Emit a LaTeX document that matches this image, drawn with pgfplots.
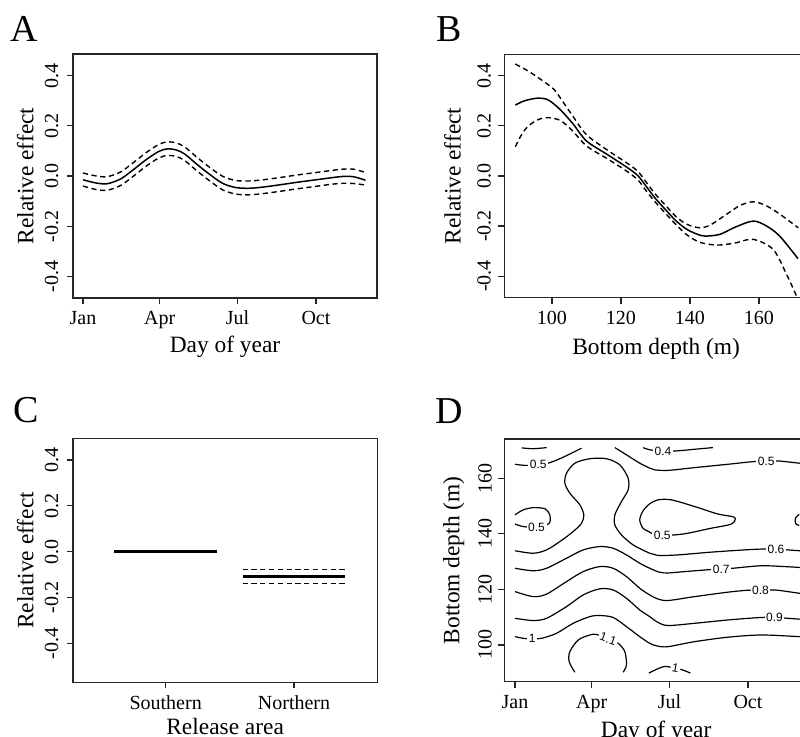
\documentclass[border=0pt]{standalone}
\usepackage{fontspec}
\setmainfont{Liberation Serif}
\newfontfamily\contourfont{Liberation Sans}
\usepackage{pgfplots}
\pgfplotsset{compat=1.18}

\pgfplotsset{
  rpanel/.style={
    scale only axis,
    axis line style={line width=0.6pt, black!85},
    tick align=outside, tick pos=left,
    major tick length=3pt,
    every tick/.style={line width=0.6pt, black!85},
    tick label style={font=\fontsize{10}{12}\selectfont},
    label style={font=\fontsize{11.7}{14}\selectfont},
    yticklabel style={rotate=90, anchor=base, inner sep=0pt},
    xticklabel style={anchor=base, inner sep=0pt},
    xticklabel shift=10.5pt,
  },
  rfit/.style={black, line width=0.75pt, smooth},
  band/.style={black, line width=0.7pt, smooth, dash pattern=on 2.6pt off 1.8pt},
  cline/.style={black, line width=0.6pt, smooth, tension=0.5},
}
\tikzset{clab/.style={fill=white, inner sep=0.8pt, font=\contourfont\fontsize{6}{7}\selectfont}}

\begin{document}
\begin{tikzpicture}
\useasboundingbox (0,0) rectangle (400pt,368.5pt);
\clip (0,0) rectangle (400pt,368.5pt);
\fill[white] (0,0) rectangle (400pt,368.5pt);

\node[anchor=base west, inner sep=0pt, font=\fontsize{19}{22}\selectfont] at (5pt,347.5pt) {A};
\node[anchor=base west, inner sep=0pt, font=\fontsize{19}{22}\selectfont] at (218pt,347.5pt) {B};
\node[anchor=base west, inner sep=0pt, font=\fontsize{19}{22}\selectfont] at (6.5pt,157.2pt) {C};
\node[anchor=base west, inner sep=0pt, font=\fontsize{19}{22}\selectfont] at (217.5pt,156.8pt) {D};

% A: day of year
\begin{axis}[rpanel,
  at={(36.5pt,219.5pt)}, anchor=south west, width=152pt, height=122pt,
  xmin=-10.7, xmax=345.5, ymin=-0.486, ymax=0.486,
  xtick={1,91,182,274}, xticklabels={Jan,Apr,Jul,Oct},
  ytick={-0.4,-0.2,0,0.2,0.4}, yticklabels={-0.4,-0.2,0.0,0.2,0.4},
  yticklabel shift=4.5pt,
  xlabel={Day of year}, ylabel={Relative effect},
  xlabel style={at={(axis description cs:0.5,-0.2254)}, anchor=base},
  ylabel style={at={(axis description cs:-0.1306,0.5)}, anchor=base},
]
\addplot[rfit] coordinates {(1,-0.015) (15,-0.027) (29,-0.031) (45,-0.012) (60,0.025) (75,0.065) (90,0.098) (100,0.108) (110,0.104) (120,0.088) (135,0.045) (150,0.005) (165,-0.030) (180,-0.046) (195,-0.049) (210,-0.045) (230,-0.036) (250,-0.026) (270,-0.017) (290,-0.008) (305,-0.002) (318,-0.003) (332,-0.017)};
\addplot[band] coordinates {(1,0.012) (15,0.001) (29,-0.003) (45,0.016) (60,0.053) (75,0.093) (90,0.126) (100,0.136) (110,0.132) (120,0.116) (135,0.073) (150,0.033) (165,-0.002) (180,-0.018) (195,-0.020) (210,-0.016) (230,-0.007) (250,0.003) (270,0.012) (290,0.021) (305,0.027) (318,0.027) (332,0.014)};
\addplot[band] coordinates {(1,-0.040) (15,-0.053) (29,-0.057) (45,-0.038) (60,-0.001) (75,0.039) (90,0.072) (100,0.082) (110,0.078) (120,0.062) (135,0.019) (150,-0.021) (165,-0.056) (180,-0.072) (195,-0.075) (210,-0.071) (230,-0.062) (250,-0.052) (270,-0.043) (290,-0.034) (305,-0.029) (318,-0.030) (332,-0.036)};
\end{axis}

% B: bottom depth
\begin{axis}[rpanel,
  at={(252.15pt,219.65pt)}, anchor=south west, width=151.85pt, height=121.7pt,
  xmin=86.2, xmax=174.2, ymin=-0.486, ymax=0.486,
  xtick={100,120,140,160}, xticklabels={100,120,140,160},
  ytick={-0.4,-0.2,0,0.2,0.4}, yticklabels={-0.4,-0.2,0.0,0.2,0.4},
  yticklabel shift=3.8pt,
  xlabel={Bottom depth (m)}, ylabel={Relative effect},
  xlabel style={at={(axis description cs:0.5,-0.2326)}, anchor=base},
  ylabel style={at={(axis description cs:-0.1436,0.5)}, anchor=base},
]
\addplot[rfit] coordinates {(89.4,0.283) (92,0.300) (96,0.311) (99,0.303) (102.4,0.265) (106,0.210) (110,0.140) (115.9,0.087) (121.7,0.035) (125,0.000) (127.5,-0.045) (130,-0.090) (133.3,-0.140) (136,-0.180) (139.1,-0.213) (142,-0.232) (144.4,-0.240) (148.7,-0.233) (153,-0.205) (158.3,-0.180) (162.2,-0.200) (166,-0.240) (171.3,-0.330)};
\addplot[band] coordinates {(89.4,0.447) (93,0.420) (96.6,0.387) (100.5,0.347) (103,0.300) (106,0.240) (110,0.165) (115.9,0.105) (121.7,0.052) (125,0.017) (127.5,-0.028) (130,-0.073) (133.3,-0.123) (136,-0.163) (139.1,-0.193) (142.9,-0.207) (146,-0.195) (150.6,-0.153) (154.5,-0.118) (158.3,-0.103) (162,-0.118) (166.1,-0.153) (171.4,-0.207)};
\addplot[band] coordinates {(89.4,0.117) (91,0.160) (92.7,0.193) (95.5,0.222) (98.6,0.233) (102.4,0.222) (106,0.180) (110,0.120) (115.9,0.070) (121.7,0.019) (125,-0.017) (127.5,-0.063) (130,-0.105) (133.3,-0.155) (136,-0.195) (139.1,-0.235) (142.9,-0.265) (147.8,-0.276) (153,-0.268) (158.3,-0.253) (164.1,-0.293) (168,-0.393) (170.9,-0.480)};
\end{axis}

% C: release area
\begin{axis}[rpanel,
  at={(36.5pt,27.35pt)}, anchor=south west, width=152.15pt, height=122pt,
  xmin=0.278, xmax=2.649, ymin=-0.570, ymax=0.495,
  xtick={1,2}, xticklabels={Southern,Northern},
  ytick={-0.4,-0.2,0,0.2,0.4}, yticklabels={-0.4,-0.2,0.0,0.2,0.4},
  yticklabel shift=4.5pt,
  xlabel={Release area}, ylabel={Relative effect},
  xlabel style={at={(axis description cs:0.5,-0.216)}, anchor=base},
  ylabel style={at={(axis description cs:-0.1306,0.5)}, anchor=base},
]
\addplot[black, line width=1.3pt] coordinates {(0.6,0) (1.4,0)};
\addplot[black, line width=1.3pt] coordinates {(1.6,-0.109) (2.4,-0.109)};
\addplot[black, line width=0.7pt, dash pattern=on 2.6pt off 1.8pt] coordinates {(1.6,-0.077) (2.4,-0.077)};
\addplot[black, line width=0.7pt, dash pattern=on 2.6pt off 1.8pt] coordinates {(1.6,-0.138) (2.4,-0.138)};
\end{axis}

% D: interaction contours
\begin{axis}[rpanel,
  at={(252.15pt,27.65pt)}, anchor=south west, width=151.85pt, height=121.35pt,
  xmin=-11.5, xmax=344.3, ymin=86.8, ymax=174.1,
  xtick={1,91,182,274}, xticklabels={Jan,Apr,Jul,Oct},
  ytick={100,120,140,160}, yticklabels={100,120,140,160},
  yticklabel shift=3.3pt,
  xlabel={Day of year}, ylabel={Bottom depth (m)},
  xlabel style={at={(axis description cs:0.5,-0.228)}, anchor=base},
  ylabel style={at={(axis description cs:-0.148,0.5)}, anchor=base},
]
\addplot[cline] coordinates {(8.8,170.9) (22.4,170.6) (38,171.0)};
\addplot[cline] coordinates {(1,165.0) (13,164.6) (28.3,164.8) (40,165.4) (53.6,167.0) (67.3,169.0) (79,170.8)};
\addplot[cline] coordinates {(118,171.0) (131.6,168.4) (147.2,165.4) (158.9,163.6) (164.7,163.0) (180.3,162.8) (211.5,163.8) (250.5,165.0) (281.7,166.0) (295.3,166.0) (309,166.2) (334.3,165.4) (344,165.2)};
\addplot[cline] coordinates {(151,171.0) (158.9,170.2) (174.5,169.8) (190,169.8) (211.5,170.4) (232.9,171.0)};
\addplot[cline] coordinates {(1,133.9) (22.4,133.0) (38,134.2) (53.6,137.2) (69.2,140.8) (79,143.8) (81.7,146.8) (77,150.4) (65.3,154.6) (59.5,158.2) (61.4,161.8) (71.2,165.4) (88.7,167.0) (108.2,167.0) (123.8,164.8) (133.6,160.0) (133.6,155.8) (125.8,151.6) (118,146.8) (118,143.2) (125.8,139.6) (139.4,136.0) (158.9,133.0) (168.6,132.2) (191.9,132.4) (230.9,133.4) (269.9,134.2) (289.4,134.5) (306.9,134.5) (320.6,134.2) (334.3,133.9) (344,133.8)};
\addplot[cline] coordinates {(1,146.8) (10.7,148.6) (22.4,149.4) (36.1,149.0) (41.9,146.8) (41.9,144.2) (38,143.2) (26.3,142.3) (10.7,142.6) (1,143.5)};
\addplot[cline] coordinates {(162,140.0) (173.6,139.4) (188.1,139.6) (203.6,140.2) (230.9,142.0) (254.4,143.5) (258.3,145.9) (238.8,147.1) (211.5,149.8) (184.2,152.2) (168.6,152.2) (158.9,150.8) (151,148.2) (147.2,145.0) (151,142.0) (158.9,140.6) (162,140.0)};
\addplot[cline] coordinates {(334,147.0) (329.5,145.6) (330,143.6) (334,143.0)};
\addplot[cline] coordinates {(1,127.6) (22.4,126.7) (38,127.6) (61.4,131.2) (80.9,134.2) (100.4,135.4) (116,134.8) (131.6,132.4) (147.2,129.4) (158.9,127.6) (170,126.2) (180,125.9) (199.8,126.4) (229,127.1) (242.7,127.3) (256.3,127.6) (289.4,128.5) (316.7,128.2) (334.3,127.9) (344,127.8)};
\addplot[cline] coordinates {(1,119.2) (22.4,117.4) (38,118.3) (61.4,122.8) (80.9,126.4) (100.4,128.2) (116,127.6) (131.6,124.6) (147.2,120.4) (158.9,118.0) (168,116.6) (180.3,116.0) (211.5,117.4) (250.5,119.0) (273.9,119.7) (288.7,119.7) (305.1,119.8) (320.6,119.2) (334.3,118.6) (344,118.3)};
\addplot[cline] coordinates {(1,109.6) (22.4,108.8) (38,109.6) (61.4,113.8) (80.9,118.0) (100.4,120.2) (116,119.8) (131.6,116.8) (147.2,112.6) (158.9,110.2) (168,108.2) (180.3,107.0) (211.5,107.8) (250.5,109.0) (289.4,109.9) (305.1,109.9) (320.6,109.6) (334.3,109.3) (344,109.2)};
\addplot[cline] coordinates {(1,103.0) (10.7,102.4) (21.3,102.2) (32.2,102.4) (49.7,104.2) (69.2,107.8) (88.7,110.2) (100.4,110.6) (116,109.9) (131.6,106.6) (147.2,103.0) (158.9,100.6) (168,99.6) (180.3,99.4) (211.5,101.2) (250.5,102.8) (289.4,103.6) (334.3,103.0) (344,102.9)};
\addplot[cline] coordinates {(71.2,90.2) (64.5,94.0) (65.3,97.6) (75.1,101.8) (88.7,103.6) (96.5,103.8) (110.2,102.2) (121.9,100.6) (129.7,97.6) (131.6,92.8) (127.7,90.2)};
\addplot[cline] coordinates {(157.9,89.9) (169.5,91.6) (177.3,92.3) (189,91.6) (196.8,91.1) (206.5,89.9)};
\node[clab] at (axis cs:28.3,164.8) {0.5};
\node[clab] at (axis cs:295.3,166.0) {0.5};
\node[clab] at (axis cs:174.5,169.8) {0.4};
\node[clab] at (axis cs:26.3,142.3) {0.5};
\node[clab] at (axis cs:173.6,139.4) {0.5};
\node[clab] at (axis cs:306.9,134.5) {0.6};
\node[clab] at (axis cs:242.7,127.3) {0.7};
\node[clab] at (axis cs:288.7,119.7) {0.8};
\node[clab] at (axis cs:305.1,109.9) {0.9};
\node[clab] at (axis cs:21.3,102.2) {1};
\node[clab, rotate=-20] at (axis cs:110.2,102.2) {1.1};
\node[clab, rotate=-10] at (axis cs:189,91.6) {1};
\end{axis}
\end{tikzpicture}
\end{document}
